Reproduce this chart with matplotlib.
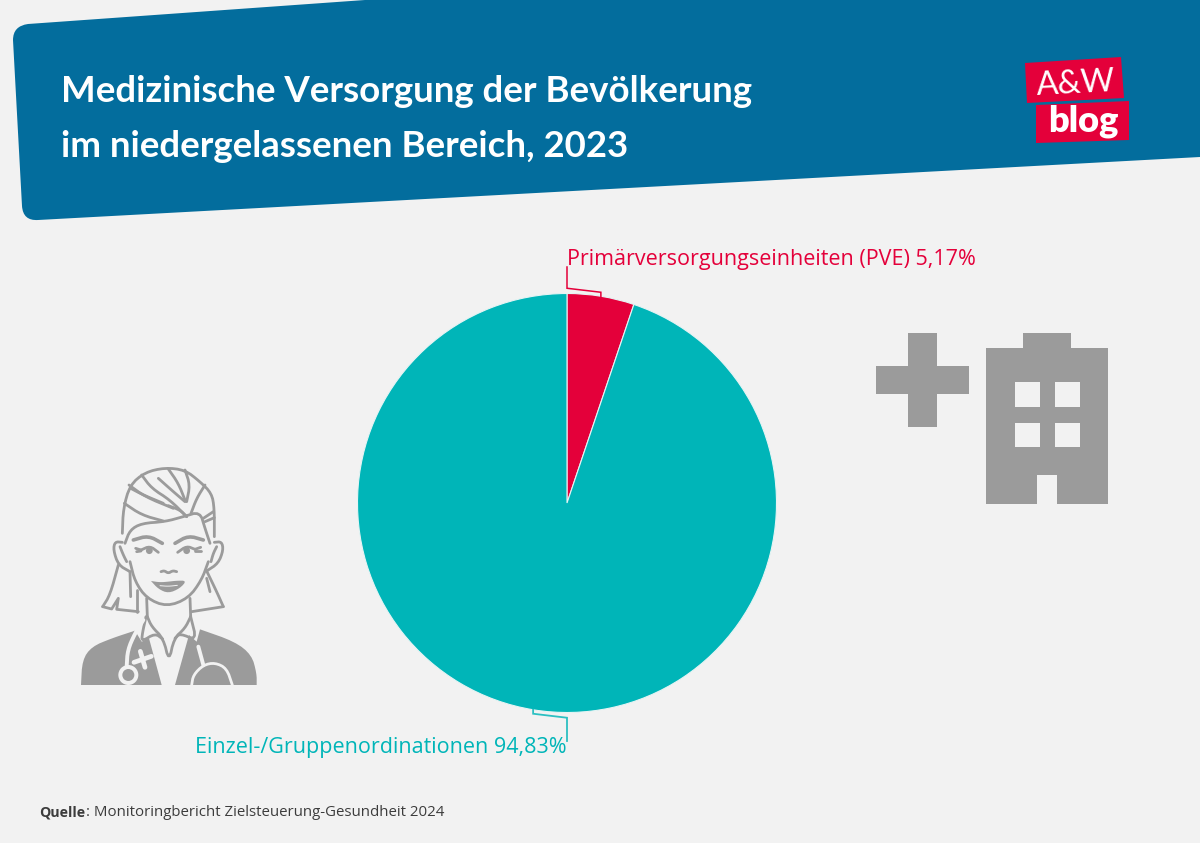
"""Pie chart of outpatient care in Austria, with banner and icons."""

import numpy as np
import matplotlib.pyplot as plt
from matplotlib.patches import Circle, PathPatch, Polygon, Rectangle
from matplotlib.path import Path

shares = [5.17, 94.83]
slice_colors = ["#e4003a", "#00b5b8"]
slice_labels = [
    "Primärversorgungseinheiten (PVE) 5,17%",
    "Einzel-/Gruppenordinationen 94,83%",
]
title_lines = [
    "Medizinische Versorgung der Bevölkerung",
    "im niedergelassenen Bereich, 2023",
]
source_name = "Quelle"
source_text = ": Monitoringbericht Zielsteuerung-Gesundheit 2024"

BG = "#f2f2f2"
BLUE = "#036d9d"
GREY = "#9b9b9b"
TEXT = "#3c3c3c"

plt.rcParams["font.family"] = ["Open Sans", "DejaVu Sans"]


def chaikin(points, rounds=2):
    """Round off a polyline by repeated corner cutting."""
    pts = np.asarray(points, dtype=float)
    for _ in range(rounds):
        q = 0.75 * pts[:-1] + 0.25 * pts[1:]
        r = 0.25 * pts[:-1] + 0.75 * pts[1:]
        mid = np.empty((len(q) * 2, 2))
        mid[0::2] = q
        mid[1::2] = r
        pts = np.vstack([pts[0], mid, pts[-1]])
    return pts


def draw_banner(ax):
    """Slanted header block with rounded left corners."""
    verts = [
        (13, 40), (13, 26), (28, 24), (365, 0), (1200, 0), (1200, 157),
        (38, 220), (23, 221), (22, 206), (13, 40),
    ]
    codes = [
        Path.MOVETO, Path.CURVE3, Path.CURVE3, Path.LINETO, Path.LINETO,
        Path.LINETO, Path.LINETO, Path.CURVE3, Path.CURVE3, Path.CLOSEPOLY,
    ]
    ax.add_patch(PathPatch(Path(verts, codes), fc=BLUE, ec="none"))

    for y, line in zip((102, 157), title_lines):
        ax.text(61, y, line, color="white", fontsize=26.4, fontweight="bold",
                family="Lato", va="baseline")

    # Logo
    ax.add_patch(Polygon([(1025, 63), (1121, 57), (1124, 98), (1027, 103)],
                         fc="#e4003a", ec="none"))
    ax.add_patch(Polygon([(1036, 105), (1129, 101), (1129, 140), (1036, 143)],
                         fc="#e4003a", ec="none"))
    ax.text(1076, 84, "A&W", color="white", fontsize=23.5, family="Lato",
            ha="center", va="center", rotation=3)
    ax.text(1083, 121, "blog", color="white", fontsize=26, fontweight="heavy",
            family="Lato", ha="center", va="center")


def draw_pie(ax, cx=567, cy=503, radius=209.5):
    wedges, _ = ax.pie(
        shares, colors=slice_colors, startangle=90, counterclock=False,
        center=(cx, cy), radius=radius, frame=True,
        wedgeprops={"edgecolor": "#e6f4f4", "linewidth": 0.8},
    )

    # The y axis runs downwards here, so mirror the wedges back
    for wedge in wedges:
        t1, t2 = wedge.theta1, wedge.theta2
        wedge.set_theta1(-t2)
        wedge.set_theta2(-t1)

    # Leader lines start at the middle of each slice's arc
    mids = [np.deg2rad((w.theta1 + w.theta2) / 2) for w in wedges]
    px, py = cx + radius * np.cos(mids[0]), cy + radius * np.sin(mids[0])
    ax.plot([px, px, cx, cx], [py, py - 4, py - 8, 267],
            color=slice_colors[0], lw=1.1, solid_joinstyle="miter")
    px, py = cx + radius * np.cos(mids[1]), cy + radius * np.sin(mids[1])
    ax.plot([px, px, cx, cx], [py, py + 4, py + 8, 741],
            color="#2cc0c2", lw=1.3, solid_joinstyle="miter")

    ax.text(567, 265.5, slice_labels[0], color=slice_colors[0], fontsize=15.45,
            ha="left", va="baseline")
    ax.text(567, 753, slice_labels[1], color=slice_colors[1], fontsize=15.45,
            ha="right", va="baseline")


def draw_building(ax):
    """Cross and building pictogram."""
    ax.add_patch(Rectangle((907.7, 333.3), 29, 93.4, fc=GREY, ec="none"))
    ax.add_patch(Rectangle((875.7, 366), 93, 28.3, fc=GREY, ec="none"))

    ax.add_patch(Rectangle((985.7, 348.3), 122.6, 156, fc=GREY, ec="none"))
    ax.add_patch(Rectangle((1023.3, 333.3), 47.4, 15, fc=GREY, ec="none"))
    for x in (1015, 1055.3):
        for y in (382, 422.7):
            ax.add_patch(Rectangle((x, y), 24.5, 24.5, fc=BG, ec="none"))
    ax.add_patch(Rectangle((1037.3, 475), 20, 29.5, fc=BG, ec="none"))


def draw_doctor(ax):
    """Doctor pictogram; points are given in a 3x scaled local grid."""

    def z(points):
        return np.asarray(points, dtype=float) / 3 + np.array([60, 440])

    def stroke(points, lw=2.0, color=GREY, smooth=True):
        pts = z(points)
        if smooth:
            pts = chaikin(pts)
        ax.plot(pts[:, 0], pts[:, 1], color=color, lw=lw,
                solid_capstyle="round", solid_joinstyle="round")

    # Jacket
    left = [(63, 735), (67, 660), (95, 620), (155, 595), (225, 572),
            (245, 605), (267, 595), (305, 735)]
    right = [(345, 735), (387, 585), (410, 605), (420, 568), (525, 605),
             (575, 645), (590, 700), (590, 735)]
    ax.add_patch(Polygon(chaikin(z(left[:5])).tolist() + z(left[5:]).tolist(),
                         fc=GREY, ec="none"))
    ax.add_patch(Polygon(z(right[:4]).tolist() + chaikin(z(right[3:])).tolist(),
                         fc=GREY, ec="none"))

    # Hair and face
    strokes = [
        [(187, 280), (190, 205), (210, 135), (255, 97), (315, 83), (375, 90),
         (420, 125), (455, 160), (463, 205), (463, 290)],
        [(195, 310), (210, 270), (245, 250), (315, 245), (370, 230), (420, 215),
         (435, 265), (450, 310)],
        [(210, 365), (225, 425), (260, 475), (320, 500), (385, 475), (425, 420),
         (445, 365)],
        [(187, 307), (165, 305), (160, 330), (175, 375), (210, 395)],
        [(180, 320), (190, 345), (200, 365)],
        [(463, 307), (485, 305), (490, 330), (475, 370), (440, 393)],
        [(470, 320), (460, 340), (453, 365)],
        [(193, 190), (245, 225), (310, 243)],
        [(207, 135), (255, 170), (340, 205)],
        [(212, 145), (250, 165), (310, 190)],
        [(245, 105), (275, 145), (330, 180), (380, 230)],
        [(295, 115), (340, 155), (375, 185)],
        [(325, 87), (355, 130), (375, 180)],
        [(375, 90), (390, 135), (380, 185)],
        [(435, 135), (410, 175), (393, 220)],
        [(325, 197), (360, 210), (380, 230)],
        [(430, 235), (460, 215)],
        [(435, 245), (463, 233)],
        [(243, 330), (270, 318), (295, 337)],
        [(353, 337), (380, 318), (405, 328)],
        [(227, 325), (243, 330)],
        [(230, 335), (243, 333)],
        [(405, 328), (422, 322)],
        [(405, 333), (422, 333)],
        [(303, 395), (313, 392), (325, 400), (338, 392), (350, 395)],
        [(175, 375), (150, 465), (128, 500)],
        [(210, 395), (212, 470)],
        [(232, 450), (232, 515)],
        [(440, 393), (470, 455), (490, 500)],
        [(440, 415), (450, 455)],
        [(260, 475), (262, 530)],
        [(390, 475), (392, 530)],
        [(262, 530), (275, 560), (310, 595), (327, 665), (342, 595), (375, 565),
         (392, 530)],
        [(258, 530), (247, 580), (245, 605), (285, 580), (308, 597)],
        [(345, 595), (360, 580), (410, 602), (392, 530)],
    ]
    for pts in strokes:
        stroke(pts)

    # Hair ends keep their sharp corners
    stroke([(128, 500), (155, 507), (175, 475), (170, 508), (235, 515)],
           smooth=False)
    stroke([(490, 500), (395, 515)], smooth=False)

    stroke([(220, 300), (265, 287), (307, 310)], lw=2.6)
    stroke([(345, 310), (385, 287), (430, 300)], lw=2.6)
    for cx_eye in (268, 380):
        ax.add_patch(Circle(z([(cx_eye, 332)])[0], 3.4, fc=GREY, ec="none"))
    mouth = [(273, 423), (300, 427), (325, 425), (350, 422), (380, 422),
             (360, 445), (325, 460), (295, 447), (273, 423)]
    ax.add_patch(Polygon(chaikin(z(mouth)), fc=GREY, ec="none"))
    stroke([(300, 437), (325, 439), (352, 436)], lw=0.7, color=BG)

    # Stethoscope: background-coloured bands over the jacket
    stroke([(250, 540), (225, 580), (203, 630), (200, 680)], lw=2.8, color=BG)
    stroke([(415, 620), (430, 675)], lw=2.8, color=BG)
    stroke([(395, 735), (400, 705), (430, 675), (465, 668), (500, 685), (517, 735)],
           lw=2.0, color=BG)
    ring = z([(205, 705)])[0]
    ax.add_patch(Circle(ring, 10, fc=BG, ec="none"))
    ax.add_patch(Circle(ring, 6, fc=GREY, ec="none"))
    ax.add_patch(Circle(z([(432, 677)])[0], 3, fc=GREY, ec="none"))

    # Cross on the jacket
    stroke([(222, 667), (274, 649)], lw=3.4, color=BG, smooth=False)
    stroke([(241, 634), (255, 682)], lw=3.4, color=BG, smooth=False)


fig = plt.figure(figsize=(12, 8.43), dpi=100, facecolor=BG)
ax = fig.add_axes([0, 0, 1, 1])

draw_pie(ax)

# All layout below is in reference pixels
ax.set_xlim(0, 1200)
ax.set_ylim(843, 0)
ax.set_aspect("equal")
ax.axis("off")

draw_banner(ax)
draw_building(ax)
draw_doctor(ax)

ax.text(39, 816.5, source_name, color=TEXT, fontsize=10.2, fontweight="bold",
        va="baseline")
ax.text(85.5, 816.5, source_text, color=TEXT, fontsize=10.85, va="baseline")

fig.savefig("out.png", dpi=100, facecolor=BG)
plt.close(fig)
